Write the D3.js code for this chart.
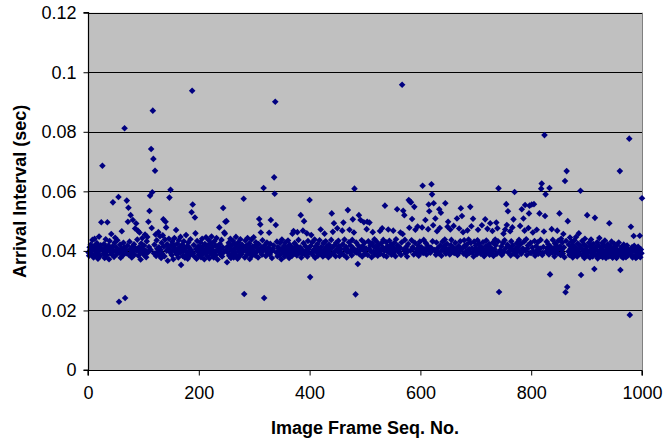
<!DOCTYPE html>
<html>
<head>
<meta charset="utf-8">
<script src="https://cdn.jsdelivr.net/npm/d3@7"></script>
<style>
  html, body { margin: 0; padding: 0; background: #ffffff; }
  svg { display: block; font-family: "Liberation Sans", Arial, sans-serif; }
</style>
</head>
<body>
<svg id="chart" width="663" height="444"></svg>
<script>
// Arrival interval of each image frame, frames 1..1000, in units of 0.1 ms
const intervalTenthsMs = [
  395,384,412,403,421,398,389,437,405,378,416,441,399,386,408,426,392,374,413,448,401,383,419,496,407,
  686,402,391,423,376,411,439,397,385,496,404,418,372,433,409,395,457,388,415,563,401,380,427,444,398,
  412,389,436,403,581,229,394,421,377,408,466,399,385,427,411,812,242,403,392,569,417,498,545,386,431,
  405,520,393,378,414,504,398,422,387,475,409,492,401,438,468,384,412,462,396,371,425,408,443,391,402,
  418,386,455,401,379,432,447,395,498,413,534,585,404,742,477,597,871,709,392,421,669,455,383,436,407,
  398,463,412,385,449,404,376,427,391,452,506,415,382,438,498,479,401,422,367,409,441,579,396,605,418,
  386,431,404,372,419,443,397,408,470,389,424,401,378,436,412,394,447,353,405,421,383,399,432,411,377,
  402,453,389,416,374,428,397,411,385,439,403,530,938,556,392,420,381,512,459,406,374,433,398,415,387,
  412,396,428,379,405,441,388,417,401,372,423,394,446,409,383,418,399,436,375,407,392,425,448,386,413,
  401,378,432,395,419,386,443,404,371,416,398,479,423,389,407,437,381,412,544,396,462,458,498,403,500,
  362,415,393,427,384,409,441,376,402,419,391,433,378,406,422,395,447,385,411,374,428,399,416,383,439,
  404,389,421,396,412,575,255,378,435,401,418,386,443,407,392,425,373,410,398,438,384,415,402,446,391,
  417,385,429,396,411,408,378,423,507,399,489,462,412,387,436,401,611,242,419,402,383,405,428,392,406,
  411,461,389,424,504,398,376,402,407,418,647,592,901,487,395,431,382,413,409,401,386,427,404,372,438,
  409,393,396,417,381,428,399,403,412,387,435,404,376,421,392,396,414,383,458,407,467,391,426,409,402,
  418,385,463,409,437,394,402,412,520,378,391,403,468,426,500,389,397,415,398,459,381,433,406,394,571,
  312,417,453,392,429,386,401,404,438,377,415,399,396,423,384,407,408,436,391,472,413,398,395,381,426,
  403,458,387,432,414,409,395,391,379,421,402,406,386,437,526,411,464,393,493,419,398,382,427,405,476,
  398,434,416,383,405,407,393,391,468,422,495,386,438,404,409,413,378,397,537,401,429,471,394,418,402,
  385,437,506,409,462,609,396,254,428,395,403,356,418,520,389,401,504,412,436,381,416,405,496,427,392,
  391,408,473,498,386,432,407,495,401,419,398,379,426,463,397,414,439,388,415,409,431,402,384,418,394,
  403,467,391,425,406,476,412,437,385,401,552,408,429,381,399,416,472,396,434,408,402,421,387,396,413,
  468,394,427,401,382,439,406,540,418,414,399,393,411,462,386,428,958,457,535,404,520,437,392,406,415,
  381,399,423,571,478,566,401,563,436,507,412,409,388,548,427,471,396,392,405,482,418,384,403,431,398,
  396,412,479,619,393,437,401,405,504,426,388,405,417,473,556,533,398,394,411,624,590,432,486,560,403,
  401,509,387,428,466,409,392,395,540,477,418,528,384,403,431,402,409,416,438,560,391,407,424,481,498,
  406,395,388,472,419,437,398,401,412,484,393,399,427,403,408,509,386,391,416,475,399,432,543,407,517,
  408,463,391,436,418,414,397,385,422,469,401,438,406,393,548,427,483,409,394,508,381,431,405,402,418,
  402,389,436,471,407,425,408,394,391,413,486,398,429,403,382,397,506,416,435,392,474,408,401,423,387,
  493,411,395,396,467,428,383,404,405,438,419,495,391,476,432,610,262,397,401,403,415,386,391,427,458,
  398,436,472,409,557,487,421,533,394,398,413,466,385,432,404,479,418,506,391,598,392,407,401,426,382,
  402,414,437,399,484,423,391,540,396,408,509,431,468,554,402,439,386,407,418,477,526,552,394,427,393,
  556,411,462,397,557,433,384,398,416,471,402,429,391,403,526,408,437,609,626,386,394,413,465,789,517,
  590,398,431,409,405,422,388,611,321,396,412,473,394,437,408,406,381,425,393,401,417,468,392,434,409,
  526,415,386,441,403,428,391,457,412,379,635,261,433,668,279,500,398,421,386,445,407,392,431,414,378,
  419,401,436,388,412,447,395,381,425,403,459,391,417,602,319,409,433,384,398,422,376,441,405,389,414,
  520,396,383,427,401,378,415,438,392,406,381,423,397,339,511,412,386,404,429,375,418,391,443,399,383,
  411,394,426,379,403,418,387,435,398,376,412,391,422,405,381,493,397,416,384,431,402,377,409,392,424,
  385,412,398,376,419,401,387,428,394,668,336,408,381,415,396,377,421,402,388,413,379,397,418,384,405,
  391,777,185,403,481,386,412,378,399,450,417,383,402,376,409,393,381,414,387,398,451,379,405,392,577
];

const yTickValues = [0, 0.02, 0.04, 0.06, 0.08, 0.1, 0.12];
const xTickValues = [0, 200, 400, 600, 800, 1000];
const xTitle = "Image Frame Seq. No.";
const yTitle = "Arrival Interval (sec)";

const points = intervalTenthsMs.map((v, i) => ({ frame: i + 1, sec: v / 10000 }));

const svg = d3.select("#chart");
const plot = { left: 88, right: 642, top: 12.7, bottom: 370 };

const x = d3.scaleLinear().domain([0, 1000]).range([plot.left, plot.right]);
const y = d3.scaleLinear().domain([0, 0.12]).range([plot.bottom, plot.top]);

// plot area background
svg.append("rect")
  .attr("x", plot.left).attr("y", plot.top)
  .attr("width", plot.right - plot.left).attr("height", plot.bottom - plot.top)
  .attr("fill", "#c0c0c0");

// horizontal gridlines
svg.append("g")
  .selectAll("line")
  .data(yTickValues.filter(d => d > 0))
  .join("line")
  .attr("x1", plot.left).attr("x2", plot.right)
  .attr("y1", d => Math.round(y(d)) + 0.5).attr("y2", d => Math.round(y(d)) + 0.5)
  .attr("stroke", "#000").attr("stroke-width", 1);

// right edge of the plot area
svg.append("line")
  .attr("x1", plot.right + 0.5).attr("x2", plot.right + 0.5)
  .attr("y1", plot.top).attr("y2", plot.bottom)
  .attr("stroke", "#808080").attr("stroke-width", 1);

// diamond markers
const diamond = "M0,-3.3L3.3,0L0,3.3L-3.3,0Z";
svg.append("g")
  .selectAll("path")
  .data(points)
  .join("path")
  .attr("d", diamond)
  .attr("transform", d => `translate(${x(d.frame)},${y(d.sec)})`)
  .attr("fill", "#000080");

// axes
const yAxis = svg.append("g")
  .attr("transform", `translate(${plot.left + 0.5},0)`)
  .call(d3.axisLeft(y).tickValues(yTickValues).tickFormat(d3.format("")).tickSize(5).tickPadding(7));
const xAxis = svg.append("g")
  .attr("transform", `translate(0,${plot.bottom + 0.5})`)
  .call(d3.axisBottom(x).tickValues(xTickValues).tickFormat(d3.format("d")).tickSize(5).tickPadding(11));

[yAxis, xAxis].forEach(g => {
  g.select(".domain").attr("stroke", "#000").attr("stroke-width", 1.2);
  g.selectAll(".tick line").attr("stroke", "#000");
  g.selectAll(".tick text")
    .attr("fill", "#000")
    .style("font-family", '"Liberation Sans", Arial, sans-serif')
    .style("font-size", "18px");
});
yAxis.select(".domain").attr("d", `M-5,${plot.top}H0V${plot.bottom}H-5`);
xAxis.select(".domain").attr("d", `M${plot.left},5V0H${plot.right}V5`);

// axis titles
svg.append("text")
  .attr("x", (plot.left + plot.right) / 2)
  .attr("y", 434)
  .attr("text-anchor", "middle")
  .style("font-size", "18px").style("font-weight", "bold")
  .text(xTitle);

svg.append("text")
  .attr("transform", `translate(26,${(plot.top + plot.bottom) / 2}) rotate(-90)`)
  .attr("text-anchor", "middle")
  .style("font-size", "18px").style("font-weight", "bold")
  .text(yTitle);
</script>
</body>
</html>
